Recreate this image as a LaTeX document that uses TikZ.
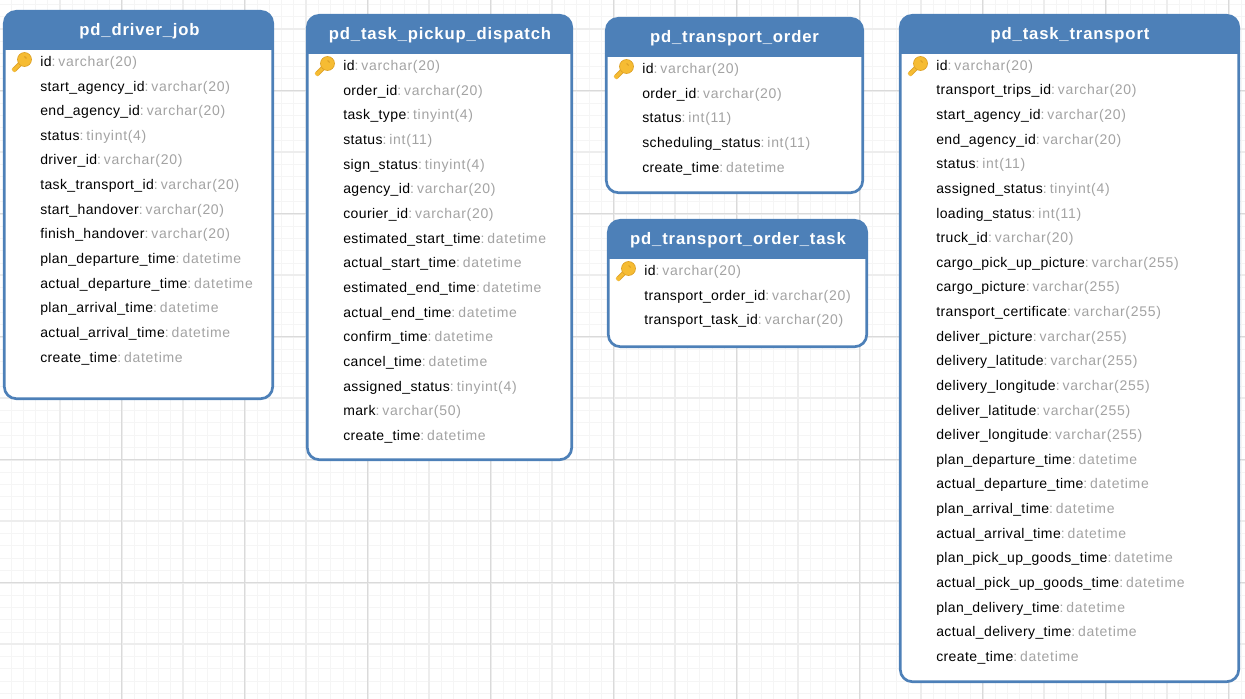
\documentclass[tikz,border=0pt]{standalone}
\usepackage{fontspec}
\setmainfont[LetterSpace=2.8]{Liberation Sans}
\newfontfamily\titlefont[LetterSpace=5,BoldFont={Liberation Sans Bold}]{Liberation Sans}
\newfontfamily\typefont[LetterSpace=5]{Liberation Sans}
\usetikzlibrary{fit}
\definecolor{headblue}{HTML}{4D80B8}
\definecolor{typegray}{HTML}{A3A3A3}
\definecolor{gridminor}{HTML}{F5F5F5}
\definecolor{gridmid}{HTML}{EDEDED}
\definecolor{gridmajor}{HTML}{DADADA}
\definecolor{keygold}{HTML}{F6BC33}
\definecolor{keyedge}{HTML}{DDA126}
\newcommand{\coltype}[1]{\textcolor{typegray}{:\hspace{2.2pt}\typefont #1}}
\begin{document}
\begin{tikzpicture}[
                x=0.75pt,
                y=-0.75pt,
                tablebox/.style={
                    draw=headblue,
                    fill=white,
                    rectangle,
                    rounded corners=9pt,
                    line width=2pt,
                    inner sep=0pt,
                    path picture={
                        \fill[headblue, sharp corners] (path picture bounding box.north west) rectangle ([yshift=-29pt]path picture bounding box.north east);
                    }
                },
                tabletitle/.style={
                    text=white,
                    font=\titlefont\bfseries\fontsize{12.5pt}{14pt}\selectfont
                },
                rowtext/.style={
                    anchor=west,
                    inner sep=0pt,
                    yshift=-1.3pt,
                    text=black,
                    font=\fontsize{10.5pt}{12pt}\selectfont
                },
                keyicon/.pic={
                    \draw[keyedge, line width=3.6pt, line cap=round] (0,0) -- (-9,9);
                    \draw[keygold, line width=2.2pt, line cap=round] (0,0) -- (-9,9);
                    \draw[keygold, line width=1.8pt] (-8,11) -- (-11,8);
                    \draw[keyedge, line width=0.5pt, fill=keygold] (1,-1) circle[radius=7];
                    \draw[keyedge, line width=0.8pt] (1,-4) -- (3,-2);
                }
            ]
                \useasboundingbox (0,0) rectangle (1245,699);

                % grid of the canvas
                \foreach \k in {1,...,101}
                    \draw[gridminor, line width=0.75pt] ({-1.3+12.3*\k},0) -- ({-1.3+12.3*\k},699);
                \foreach \k in {0,...,56}
                    \draw[gridminor, line width=0.75pt] (0,{4.7+12.3*\k}) -- (1245,{4.7+12.3*\k});
                \foreach \k in {0,...,19}
                    \draw[gridmid, line width=1.3pt] ({60.2+61.5*\k},0) -- ({60.2+61.5*\k},699);
                \foreach \k in {0,...,10}
                    \draw[gridmid, line width=1.3pt] (0,{29.3+61.5*\k}) -- (1245,{29.3+61.5*\k});
                \foreach \k in {0,...,9}
                    \draw[gridmajor, line width=0.75pt] ({121.7+123*\k},0) -- ({121.7+123*\k},699);
                \foreach \k in {0,...,4}
                    \draw[gridmajor, line width=0.75pt] (0,{90.8+123*\k}) -- (1245,{90.8+123*\k});

                % tables
                \node[tablebox, fit={(4.3,11.3) (272.7,398.7)}] (driverbox) {};
                \node[tablebox, fit={(307.3,15.3) (571.7,459.7)}] (pickupbox) {};
                \node[tablebox, fit={(606.3,18.3) (862.7,192.7)}] (orderbox) {};
                \node[tablebox, fit={(608.3,220.3) (866.7,346.7)}] (ordertaskbox) {};
                \node[tablebox, fit={(900.3,15.3) (1238.7,681.7)}] (transportbox) {};

                \node[tabletitle] (drivertitle) at (139.5,31) {pd\_driver\_job};
                \node[tabletitle] (pickuptitle) at (440,35) {pd\_task\_pickup\_dispatch};
                \node[tabletitle] (ordertitle) at (734.5,38) {pd\_transport\_order};
                \node[tabletitle] (ordertasktitle) at (738,240) {pd\_transport\_order\_task};
                \node[tabletitle] (transporttitle) at (1070,35) {pd\_task\_transport};

                % columns
                \foreach \cname/\ctype [count=\i from 0] in {
                    id/varchar(20), start\_agency\_id/varchar(20), end\_agency\_id/varchar(20),
                    status/tinyint(4), driver\_id/varchar(20), task\_transport\_id/varchar(20),
                    start\_handover/varchar(20), finish\_handover/varchar(20),
                    plan\_departure\_time/datetime, actual\_departure\_time/datetime,
                    plan\_arrival\_time/datetime, actual\_arrival\_time/datetime, create\_time/datetime}
                    \node[rowtext] (driver\i) at (40,{61+24.65*\i}) {\cname\coltype{\ctype}};

                \foreach \cname/\ctype [count=\i from 0] in {
                    id/varchar(20), order\_id/varchar(20), task\_type/tinyint(4), status/int(11),
                    sign\_status/tinyint(4), agency\_id/varchar(20), courier\_id/varchar(20),
                    estimated\_start\_time/datetime, actual\_start\_time/datetime,
                    estimated\_end\_time/datetime, actual\_end\_time/datetime, confirm\_time/datetime,
                    cancel\_time/datetime, assigned\_status/tinyint(4), mark/varchar(50), create\_time/datetime}
                    \node[rowtext] (pickup\i) at (343,{65+24.67*\i}) {\cname\coltype{\ctype}};

                \foreach \cname/\ctype [count=\i from 0] in {
                    id/varchar(20), order\_id/varchar(20), status/int(11),
                    scheduling\_status/int(11), create\_time/datetime}
                    \node[rowtext] (order\i) at (642,{68+24.7*\i}) {\cname\coltype{\ctype}};

                \foreach \cname/\ctype [count=\i from 0] in {
                    id/varchar(20), transport\_order\_id/varchar(20), transport\_task\_id/varchar(20)}
                    \node[rowtext] (ordertask\i) at (644,{270+24.8*\i}) {\cname\coltype{\ctype}};

                \foreach \cname/\ctype [count=\i from 0] in {
                    id/varchar(20), transport\_trips\_id/varchar(20), start\_agency\_id/varchar(20),
                    end\_agency\_id/varchar(20), status/int(11), assigned\_status/tinyint(4),
                    loading\_status/int(11), truck\_id/varchar(20), cargo\_pick\_up\_picture/varchar(255),
                    cargo\_picture/varchar(255), transport\_certificate/varchar(255),
                    deliver\_picture/varchar(255), delivery\_latitude/varchar(255),
                    delivery\_longitude/varchar(255), deliver\_latitude/varchar(255),
                    deliver\_longitude/varchar(255), plan\_departure\_time/datetime,
                    actual\_departure\_time/datetime, plan\_arrival\_time/datetime,
                    actual\_arrival\_time/datetime, plan\_pick\_up\_goods\_time/datetime,
                    actual\_pick\_up\_goods\_time/datetime, plan\_delivery\_time/datetime,
                    actual\_delivery\_time/datetime, create\_time/datetime}
                    \node[rowtext] (transport\i) at (936,{65+24.625*\i}) {\cname\coltype{\ctype}};

                % primary keys
                \pic at (23.5,60.5) {keyicon};
                \pic at (326.5,64.5) {keyicon};
                \pic at (625.5,67.5) {keyicon};
                \pic at (627.5,269.5) {keyicon};
                \pic at (919.5,64.5) {keyicon};
\end{tikzpicture}
\end{document}
